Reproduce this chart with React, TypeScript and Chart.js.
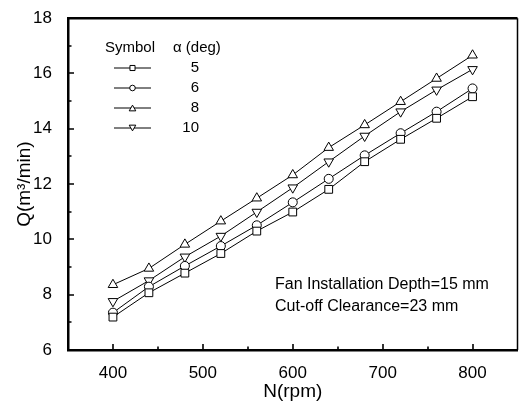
import React, { useEffect, useRef } from 'react';
import { Chart, registerables } from 'chart.js';

Chart.register(...registerables);

// ---- data ----
const rpm = [400, 440, 480, 520, 560, 600, 640, 680, 720, 760, 800];
const q5 = [7.19, 8.07, 8.78, 9.49, 10.3, 10.99, 11.81, 12.81, 13.62, 14.38, 15.16];
const q6 = [7.35, 8.29, 9.04, 9.76, 10.51, 11.34, 12.19, 13.04, 13.84, 14.62, 15.46];
const q8 = [8.36, 8.95, 9.82, 10.66, 11.49, 12.33, 13.32, 14.14, 14.98, 15.82, 16.66];
const q10 = [7.76, 8.51, 9.37, 10.12, 10.99, 11.87, 12.81, 13.74, 14.62, 15.41, 16.15];
const seriesValues = [q5, q6, q8, q10];
const angles = ['5', '6', '8', '10'];
const xTicks = [400, 500, 600, 700, 800];
const xMinorTicks = [450, 550, 650, 750];
const yTicks = [6, 8, 10, 12, 14, 16, 18];
const yMinorTicks = [7, 9, 11, 13, 15, 17];
const legendHeader = ['Symbol', 'α (deg)'];
const notes = ['Fan Installation Depth=15 mm', 'Cut-off Clearance=23 mm'];
const xTitle = 'N(rpm)';
const yTitle = 'Q(m³/min)';

// ---- styles ----
const FONT = "'Liberation Sans', Arial, Helvetica, sans-serif";
const pointStyles = ['rect', 'circle', 'triangle', 'triangle'];
const pointRotations = [0, 0, 0, 180];
const pointRadii = [5.5, 4.5, 5.5, 5.5];
const legendRadii = [3.6, 2.8, 3.8, 3.8];

function drawMarker(ctx: CanvasRenderingContext2D, style: string, x: number, y: number, r: number, rot: number) {
  ctx.beginPath();
  if (style === 'rect') {
    const s = r * Math.SQRT1_2;
    ctx.rect(x - s, y - s, 2 * s, 2 * s);
  } else if (style === 'circle') {
    ctx.arc(x, y, r, 0, Math.PI * 2);
  } else {
    const sgn = rot ? -1 : 1;
    const cy = y + sgn * r / 4;
    ctx.moveTo(x, cy - sgn * r);
    ctx.lineTo(x + r * 0.866, cy + sgn * r / 2);
    ctx.lineTo(x - r * 0.866, cy + sgn * r / 2);
    ctx.closePath();
  }
  ctx.fillStyle = '#fff';
  ctx.fill();
  ctx.stroke();
}

const framePlugin = {
  id: 'frameAndNotes',
  afterDraw(chart: any) {
    const { ctx, chartArea } = chart;
    const { left, right, top, bottom } = chartArea;
    const xs = chart.scales.x;
    const ys = chart.scales.y;
    ctx.save();
    ctx.strokeStyle = '#000';
    // top & right frame
    ctx.lineWidth = 2.5;
    ctx.beginPath();
    ctx.moveTo(left - 1, top);
    ctx.lineTo(right, top);
    ctx.stroke();
    ctx.lineWidth = 1.5;
    ctx.beginPath();
    ctx.moveTo(right, top);
    ctx.lineTo(right, bottom);
    ctx.stroke();
    // inward ticks
    ctx.lineWidth = 1.6;
    ctx.beginPath();
    xTicks.forEach((v) => {
      const px = Math.round(xs.getPixelForValue(v));
      ctx.moveTo(px, bottom);
      ctx.lineTo(px, bottom - 6);
    });
    xMinorTicks.forEach((v) => {
      const px = Math.round(xs.getPixelForValue(v));
      ctx.moveTo(px, bottom);
      ctx.lineTo(px, bottom - 3.5);
    });
    yTicks.forEach((v) => {
      const py = Math.round(ys.getPixelForValue(v));
      ctx.moveTo(left, py);
      ctx.lineTo(left + 6, py);
    });
    yMinorTicks.forEach((v) => {
      const py = Math.round(ys.getPixelForValue(v));
      ctx.moveTo(left, py);
      ctx.lineTo(left + 3.5, py);
    });
    ctx.stroke();

    // legend table
    ctx.fillStyle = '#000';
    ctx.font = `15px ${FONT}`;
    ctx.textBaseline = 'middle';
    ctx.textAlign = 'left';
    ctx.fillText(legendHeader[0], 105, 48);
    ctx.fillText(legendHeader[1], 173, 48);
    ctx.lineWidth = 1;
    angles.forEach((a, i) => {
      const y = 68 + i * 20;
      ctx.beginPath();
      ctx.moveTo(114, y);
      ctx.lineTo(151, y);
      ctx.stroke();
      drawMarker(ctx, pointStyles[i], 132.5, y, legendRadii[i], pointRotations[i]);
      ctx.fillStyle = '#000';
      ctx.textAlign = 'right';
      ctx.fillText(a, 199, y);
    });

    // notes
    ctx.font = `16px ${FONT}`;
    ctx.textAlign = 'left';
    ctx.fillStyle = '#000';
    notes.forEach((t, i) => ctx.fillText(t, 275, 285 + i * 22));
    ctx.restore();
  },
};

export default function App() {
  const ref = useRef<HTMLCanvasElement | null>(null);
  useEffect(() => {
    if (!ref.current) return;
    const datasets = seriesValues.map((vals, i) => ({
      label: angles[i],
      data: rpm.map((x, j) => ({ x, y: vals[j] })),
      showLine: true,
      borderColor: '#000',
      borderWidth: 1,
      backgroundColor: '#fff',
      pointStyle: pointStyles[i],
      pointRotation: pointRotations[i],
      pointRadius: pointRadii[i],
      pointBorderWidth: 1,
      pointBorderColor: '#000',
      pointBackgroundColor: '#fff',
    }));
    const chart = new Chart(ref.current, {
      type: 'scatter',
      data: { datasets },
      options: {
        animation: false,
        responsive: false,
        layout: { padding: { top: 15, right: 4, left: 0, bottom: 0 } },
        plugins: { legend: { display: false }, tooltip: { enabled: false } },
        scales: {
          x: {
            type: 'linear',
            min: 350,
            max: 850,
            afterBuildTicks: (s: any) => {
              s.ticks = xTicks.map((v) => ({ value: v }));
            },
            afterFit: (s: any) => {
              s.height = 53;
            },
            grid: { display: false },
            border: { display: true, color: '#000', width: 2.5 },
            ticks: { color: '#000', font: { size: 17, family: FONT }, padding: 5, maxRotation: 0, autoSkip: false },
            title: { display: true, text: xTitle, color: '#000', font: { size: 19, family: FONT }, padding: { top: 0, bottom: 0 } },
          },
          y: {
            type: 'linear',
            min: 6,
            max: 18,
            afterBuildTicks: (s: any) => {
              s.ticks = yTicks.map((v) => ({ value: v }));
            },
            afterFit: (s: any) => {
              s.width = 68;
            },
            grid: { display: false },
            border: { display: true, color: '#000', width: 2.5 },
            ticks: { color: '#000', font: { size: 17, family: FONT }, padding: 8, autoSkip: false },
            title: { display: true, text: yTitle, color: '#000', font: { size: 19, family: FONT }, padding: { top: 13, bottom: 0 } },
          },
        },
      },
      plugins: [framePlugin],
    } as any);
    return () => chart.destroy();
  }, []);
  return (
    <div style={{ position: 'fixed', left: 0, top: 0, width: 524, height: 403, background: '#fff' }}>
      <canvas ref={ref} width={524} height={403} style={{ display: 'block' }} />
    </div>
  );
}
